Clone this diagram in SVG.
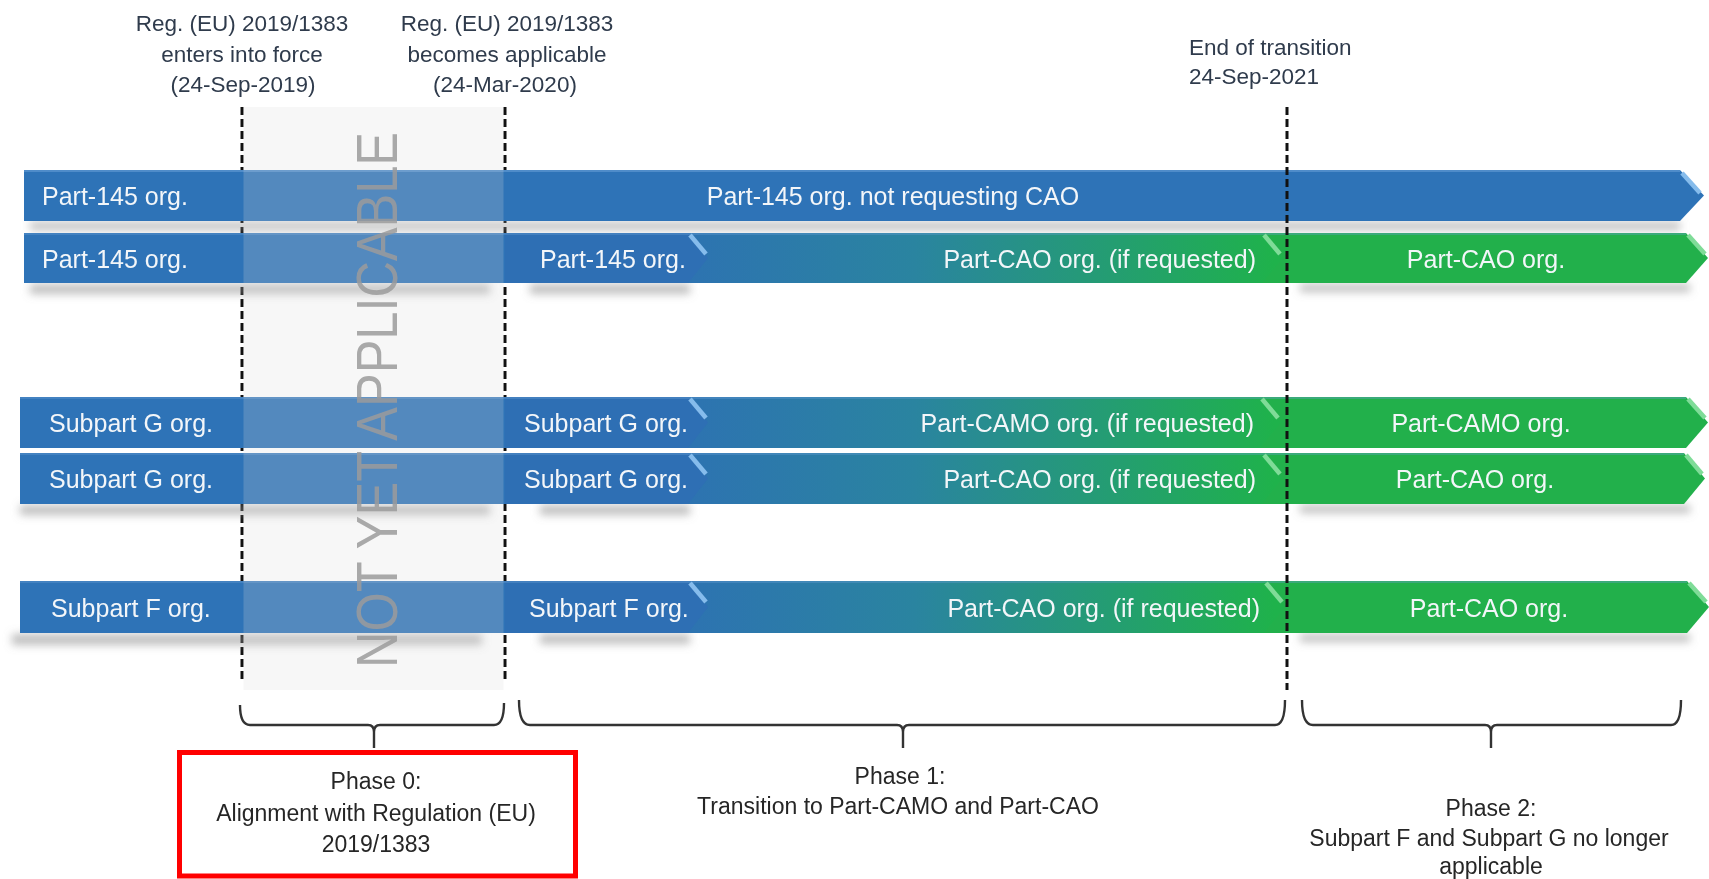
<svg xmlns="http://www.w3.org/2000/svg" width="1709" height="879" viewBox="0 0 1709 879">
<style>
  .bt{font-family:"Liberation Sans",Arial,sans-serif;font-size:25px;fill:#f3f6f9}
  .lbl{font-family:"Liberation Sans",Arial,sans-serif;font-size:22.5px;fill:#2f3b4c}
  .ph{font-family:"Liberation Sans",Arial,sans-serif;font-size:23px;fill:#262626}
  .dash{stroke:#111;stroke-width:3;stroke-dasharray:8 4;fill:none}
  .brace{fill:none;stroke:#333333;stroke-width:2.4;stroke-linejoin:round}
  .blue{fill:#2e73b7}
  .blueB{fill:#2e6fb4}
  .green{fill:#22b04b}
  .hlB{stroke:#86bcec;stroke-width:4.5;fill:none}
  .hlG{stroke:#7fdc98;stroke-width:4.5;fill:none}
  .shadow{fill:#8a8a8a;opacity:0.55}
</style>
<defs>
  <linearGradient id="grad" gradientUnits="userSpaceOnUse" x1="620" y1="0" x2="1275" y2="0">
    <stop offset="0" stop-color="#2e6eb6"/>
    <stop offset="0.45" stop-color="#2a84a0"/>
    <stop offset="1" stop-color="#1fb24b"/>
  </linearGradient>
  <filter id="blur" x="-10%" y="-200%" width="120%" height="500%">
    <feGaussianBlur stdDeviation="4"/>
  </filter>
</defs>
<rect width="1709" height="879" fill="#ffffff"/>

<!-- milestone dashed lines under bars -->
<g id="connectors">
  <line class="dash" x1="242" y1="107" x2="242" y2="682"/>
  <line class="dash" x1="505" y1="107" x2="505" y2="682"/>
</g>

<!-- shadows -->
<g id="shadows" filter="url(#blur)">
  <rect class="shadow" x="30" y="222" width="1650" height="8" opacity="0.35"/>
  <rect class="shadow" x="30" y="284" width="460" height="10"/>
  <rect class="shadow" x="530" y="284" width="160" height="10"/>
  <rect class="shadow" x="1300" y="284" width="390" height="8" opacity="0.3"/>
  <rect class="shadow" x="20" y="505" width="470" height="10"/>
  <rect class="shadow" x="540" y="505" width="150" height="10"/>
  <rect class="shadow" x="1300" y="505" width="390" height="8" opacity="0.3"/>
  <rect class="shadow" x="12" y="634" width="470" height="11"/>
  <rect class="shadow" x="540" y="634" width="150" height="10"/>
  <rect class="shadow" x="1300" y="634" width="390" height="8" opacity="0.3"/>
</g>

<!-- Row 1 -->
<g id="row1">
  <polygon class="blue" points="24,170 1680,170 1704,195.5 1680,221 24,221"/>
  <line x1="24" y1="171" x2="1680" y2="171" stroke="#5b95cf" stroke-width="1.5"/>
  <polyline class="hlB" points="1682,173 1700,193"/>
  <text class="bt" x="42" y="205">Part-145 org.</text>
  <text class="bt" x="893" y="205" text-anchor="middle">Part-145 org. not requesting CAO</text>
</g>

<!-- Row 2 -->
<g id="row2">
  <polygon class="green" points="1250,233 1686,233 1708,258 1686,283 1250,283"/>
  <polygon fill="url(#grad)" points="505,233 1262,233 1283,258 1262,283 505,283"/>
  <polygon class="blueB" points="505,233 688,233 708,258 688,283 505,283"/>
  <rect class="blue" x="24" y="233" width="481" height="50"/>
  <line x1="24" y1="234" x2="1686" y2="234" stroke="#6aa0d6" stroke-width="1.2" opacity="0.7"/>
  <polyline class="hlB" points="690,235 706,254"/>
  <polyline class="hlG" points="1264,235 1280,254"/>
  <polyline class="hlG" points="1688,235 1705,254"/>
  <text class="bt" x="42" y="268">Part-145 org.</text>
  <text class="bt" x="540" y="268">Part-145 org.</text>
  <text class="bt" x="1256" y="268" text-anchor="end">Part-CAO org. (if requested)</text>
  <text class="bt" x="1486" y="268" text-anchor="middle">Part-CAO org.</text>
</g>

<!-- Row 3 -->
<g id="row3">
  <polygon class="green" points="1250,397 1686,397 1708,422.5 1686,448 1250,448"/>
  <polygon fill="url(#grad)" points="505,397 1260,397 1281,422.5 1260,448 505,448"/>
  <polygon class="blueB" points="505,397 688,397 708,422.5 688,448 505,448"/>
  <rect class="blue" x="20" y="397" width="485" height="51"/>
  <line x1="20" y1="398" x2="1686" y2="398" stroke="#6aa0d6" stroke-width="1.2" opacity="0.7"/>
  <polyline class="hlB" points="690,399 706,418"/>
  <polyline class="hlG" points="1262,399 1278,418"/>
  <polyline class="hlG" points="1688,399 1705,418"/>
  <text class="bt" x="49" y="432">Subpart G org.</text>
  <text class="bt" x="524" y="432">Subpart G org.</text>
  <text class="bt" x="1254" y="432" text-anchor="end">Part-CAMO org. (if requested)</text>
  <text class="bt" x="1481" y="432" text-anchor="middle">Part-CAMO org.</text>
</g>

<!-- Row 4 -->
<g id="row4">
  <polygon class="green" points="1250,453 1684,453 1705,478.5 1684,504 1250,504"/>
  <polygon fill="url(#grad)" points="505,453 1262,453 1282,478.5 1262,504 505,504"/>
  <polygon class="blueB" points="505,453 688,453 708,478.5 688,504 505,504"/>
  <rect class="blue" x="20" y="453" width="485" height="51"/>
  <line x1="20" y1="454" x2="1684" y2="454" stroke="#6aa0d6" stroke-width="1.2" opacity="0.7"/>
  <polyline class="hlB" points="690,455 706,474"/>
  <polyline class="hlG" points="1264,455 1280,474"/>
  <polyline class="hlG" points="1686,455 1702,474"/>
  <text class="bt" x="49" y="488">Subpart G org.</text>
  <text class="bt" x="524" y="488">Subpart G org.</text>
  <text class="bt" x="1256" y="488" text-anchor="end">Part-CAO org. (if requested)</text>
  <text class="bt" x="1475" y="488" text-anchor="middle">Part-CAO org.</text>
</g>

<!-- Row 5 -->
<g id="row5">
  <polygon class="green" points="1250,581 1687,581 1709,607 1687,633 1250,633"/>
  <polygon fill="url(#grad)" points="505,581 1264,581 1285,607 1264,633 505,633"/>
  <polygon class="blueB" points="505,581 688,581 708,607 688,633 505,633"/>
  <rect class="blue" x="20" y="581" width="485" height="52"/>
  <line x1="20" y1="582" x2="1687" y2="582" stroke="#6aa0d6" stroke-width="1.2" opacity="0.7"/>
  <polyline class="hlB" points="690,583 706,602"/>
  <polyline class="hlG" points="1266,583 1282,602"/>
  <polyline class="hlG" points="1689,583 1706,602"/>
  <text class="bt" x="51" y="617">Subpart F org.</text>
  <text class="bt" x="529" y="617">Subpart F org.</text>
  <text class="bt" x="1260" y="617" text-anchor="end">Part-CAO org. (if requested)</text>
  <text class="bt" x="1489" y="617" text-anchor="middle">Part-CAO org.</text>
</g>

<!-- Not yet applicable overlay -->
<g id="not-yet-applicable">
  <rect x="243.5" y="107" width="260" height="583" fill="#dcdcdc" opacity="0.22"/>
  <text transform="translate(397,400) rotate(-90)" text-anchor="middle" font-family="Liberation Sans, Arial, sans-serif" font-size="58" fill="#9c9c9c" opacity="0.85" textLength="536" lengthAdjust="spacingAndGlyphs">NOT YET APPLICABLE</text>
</g>

<!-- end of transition line (over bars) -->
<g id="connectors-top">
  <line class="dash" x1="1287" y1="107" x2="1287" y2="690"/>
</g>

<!-- Milestone labels -->
<g id="label-force">
  <text class="lbl" text-anchor="middle" x="242" y="31">Reg. (EU) 2019/1383</text>
  <text class="lbl" text-anchor="middle" x="242" y="62">enters into force</text>
  <text class="lbl" text-anchor="middle" x="243" y="92">(24-Sep-2019)</text>
</g>
<g id="label-applicable">
  <text class="lbl" text-anchor="middle" x="507" y="31">Reg. (EU) 2019/1383</text>
  <text class="lbl" text-anchor="middle" x="507" y="62">becomes applicable</text>
  <text class="lbl" text-anchor="middle" x="505" y="92">(24-Mar-2020)</text>
</g>
<g id="label-end">
  <text class="lbl" x="1189" y="55">End of transition</text>
  <text class="lbl" x="1189" y="84">24-Sep-2021</text>
</g>

<!-- Braces -->
<g id="braces">
  <path class="brace" d="M240,705 Q240,725 250,725 L368,725 Q374,725 374,732 L374,748 M374,732 Q374,725 380,725 L494,725 Q504,725 504,703"/>
  <path class="brace" d="M519,700 Q519,725 530,725 L897,725 Q903,725 903,732 L903,748 M903,732 Q903,725 909,725 L1275,725 Q1285,725 1285,700"/>
  <path class="brace" d="M1302,700 Q1302,725 1313,725 L1485,725 Q1491,725 1491,732 L1491,748 M1491,732 Q1491,725 1497,725 L1671,725 Q1681,725 1681,700"/>
</g>

<!-- Phases -->
<g id="phase0">
  <rect x="179.5" y="752.5" width="396" height="123.5" fill="none" stroke="#ff0000" stroke-width="5"/>
  <text class="ph" text-anchor="middle" x="376" y="789">Phase 0:</text>
  <text class="ph" text-anchor="middle" x="376" y="821">Alignment with Regulation (EU)</text>
  <text class="ph" text-anchor="middle" x="376" y="852">2019/1383</text>
</g>
<g id="phase1">
  <text class="ph" text-anchor="middle" x="900" y="784">Phase 1:</text>
  <text class="ph" text-anchor="middle" x="898" y="814">Transition to Part-CAMO and Part-CAO</text>
</g>
<g id="phase2">
  <text class="ph" text-anchor="middle" x="1491" y="816">Phase 2:</text>
  <text class="ph" text-anchor="middle" x="1489" y="846">Subpart F and Subpart G no longer</text>
  <text class="ph" text-anchor="middle" x="1491" y="874">applicable</text>
</g>
</svg>
